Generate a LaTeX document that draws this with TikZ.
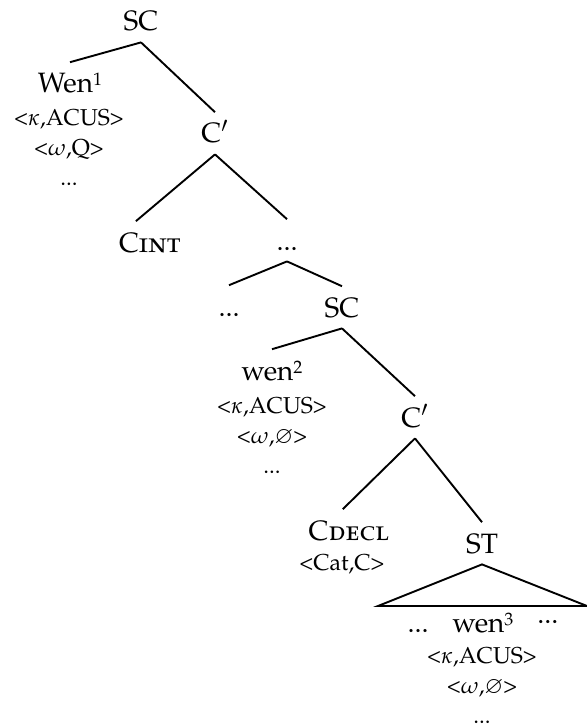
\documentclass[tikz,border=0pt]{standalone}
\usepackage[T1]{fontenc}
\usepackage[sc]{mathpazo}
\usepackage{amssymb}
\usepackage{tikz}
\usetikzlibrary{calc}

\newcommand{\idx}[1]{\raisebox{3.5pt}{\fontsize{9}{10}\selectfont #1}}

\tikzset{
  catnode/.style={font=\fontsize{14}{16}\selectfont,anchor=base,inner xsep=2pt,inner ysep=5.5pt,text height=9.7pt,text depth=0pt},
  feat/.style={font=\fontsize{11.5}{15}\selectfont,anchor=base,align=center,inner sep=0pt},
  branch/.style={line width=0.95pt}
}

\begin{document}
\begin{tikzpicture}[x=0.5pt,y=-0.5pt]
  \useasboundingbox (0,0) rectangle (587,727);
  % matrix clause
  \node[catnode] (SC1) at (141,31) {SC};
  \node[catnode] (Wen1) at (70,93) {Wen\idx{1}};
  \node[feat] (F1) at (69,186) {<$\kappa$,ACUS>\\<$\omega$,Q>\\...};
  \node[catnode] (Cbar1) at (215,143) {C$'$};
  \node[catnode] (Cint) at (150,252) {C\textsc{int}};
  \node[catnode] (D1) at (287,250) {...};
  \node[catnode] (D2) at (229,316) {...};
  % embedded clause
  \node[catnode] (SC2) at (342,317) {SC};
  \node[catnode] (wen2) at (272,380) {wen\idx{2}};
  \node[feat] (F2) at (272,473) {<$\kappa$,ACUS>\\<$\omega$,$\varnothing$>\\...};
  \node[catnode] (Cbar2) at (415,427) {C$'$};
  \node[catnode] (Cdecl) at (349,540) {C\textsc{decl}};
  \node[feat] (F3) at (342,570) {<Cat,C>};
  \node[catnode] (ST) at (482,553) {ST};
  \coordinate (TL) at (378,606);
  \coordinate (TR) at (587,606);
  \node[catnode] (wen3) at (483,632) {...\hspace{12pt}wen\idx{3}\hspace{12pt}\raisebox{4.5pt}{...}};
  \node[feat] (F4) at (482,723) {<$\kappa$,ACUS>\\<$\omega$,$\varnothing$>\\...};
  % branches
  \draw[branch] (SC1.south) -- (Wen1.north);
  \draw[branch] (SC1.south) -- (Cbar1.north);
  \draw[branch] (Cbar1.south) -- ($(Cint.north west)!0.3!(Cint.north east)$);
  \draw[branch] (Cbar1.south) -- (D1.north);
  \draw[branch] (D1.south) -- (D2.north);
  \draw[branch] (D1.south) -- (SC2.north);
  \draw[branch] (SC2.south) -- (wen2.north);
  \draw[branch] (SC2.south) -- (Cbar2.north);
  \draw[branch] (Cbar2.south) -- ($(Cdecl.north west)!0.43!(Cdecl.north east)$);
  \draw[branch] (Cbar2.south) -- (ST.north);
  \draw[branch] (ST.south) -- (TR) -- (TL) -- cycle;
\end{tikzpicture}
\end{document}
